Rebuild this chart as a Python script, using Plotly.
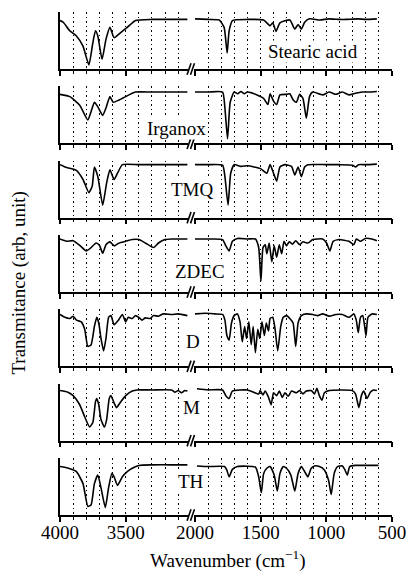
import plotly.graph_objects as go
from plotly.subplots import make_subplots

# FTIR spectra: wavenumber (cm^-1) and relative transmittance (0 = panel axis, 1 = panel top)
STEARIC_WN = [4000, 3975, 3925, 3875, 3825, 3780, 3750, 3730, 3712, 3680, 3650, 3620, 3588, 3538, 3488, 3425, 3300, 3150, 3030,
              2000, 1900, 1815, 1778, 1755, 1740, 1715, 1600, 1478, 1428, 1408, 1383, 1353, 1278, 1240, 1215, 1190, 1165,
              1128, 1050, 980, 900, 850, 760, 700, 615]
STEARIC_T = [0.85, 0.82, 0.67, 0.58, 0.40, 0.07, 0.46, 0.67, 0.58, 0.17, 0.52, 0.73, 0.55, 0.64, 0.73, 0.85, 0.87, 0.87, 0.87,
             0.88, 0.87, 0.86, 0.73, 0.28, 0.67, 0.85, 0.87, 0.86, 0.76, 0.81, 0.66, 0.81, 0.86, 0.70, 0.78, 0.70, 0.82,
             0.88, 0.86, 0.88, 0.87, 0.87, 0.88, 0.87, 0.88]

IRGANOX_WN = [4000, 3925, 3850, 3788, 3763, 3738, 3712, 3675, 3650, 3620, 3595, 3550, 3475, 3425, 3300, 3150, 3030,
              2000, 1900, 1790, 1772, 1752, 1732, 1702, 1675, 1650, 1625, 1600, 1528, 1478, 1445, 1428, 1402, 1378, 1353,
              1300, 1278, 1252, 1228, 1203, 1178, 1152, 1128, 1103, 1028, 978, 928, 878, 828, 778, 725, 675, 615]
IRGANOX_T = [0.86, 0.82, 0.67, 0.41, 0.56, 0.72, 0.64, 0.49, 0.62, 0.82, 0.72, 0.76, 0.85, 0.90, 0.90, 0.90, 0.90,
             0.90, 0.90, 0.90, 0.62, 0.08, 0.72, 0.90, 0.87, 0.91, 0.87, 0.90, 0.85, 0.79, 0.68, 0.87, 0.74, 0.68, 0.85,
             0.86, 0.87, 0.76, 0.72, 0.86, 0.79, 0.44, 0.82, 0.90, 0.85, 0.90, 0.86, 0.90, 0.85, 0.88, 0.90, 0.90, 0.91]

TMQ_WN = [4000, 3950, 3912, 3875, 3825, 3780, 3755, 3738, 3712, 3675, 3645, 3620, 3588, 3562, 3525, 3400, 3200, 3030,
          2000, 1900, 1790, 1772, 1748, 1728, 1702, 1650, 1600, 1550, 1500, 1453, 1428, 1402, 1378, 1353, 1315, 1265,
          1240, 1215, 1190, 1165, 1140, 1000, 900, 800, 777, 755, 700, 615]
TMQ_T = [0.93, 0.88, 0.86, 0.83, 0.67, 0.44, 0.55, 0.89, 0.72, 0.22, 0.61, 0.84, 0.67, 0.78, 0.93, 0.93, 0.93, 0.93,
         0.93, 0.93, 0.92, 0.72, 0.22, 0.78, 0.93, 0.90, 0.91, 0.89, 0.86, 0.78, 0.93, 0.78, 0.64, 0.89, 0.93, 0.90,
         0.75, 0.89, 0.72, 0.89, 0.93, 0.93, 0.93, 0.92, 0.89, 0.93, 0.93, 0.94]

ZDEC_WN = [4000, 3950, 3900, 3850, 3800, 3763, 3725, 3700, 3675, 3650, 3620, 3588, 3550, 3500, 3450, 3400, 3350, 3288,
           3250, 3200, 3150, 3030,
           2000, 1900, 1790, 1765, 1740, 1715, 1677, 1600, 1540, 1515, 1498, 1482, 1465, 1453, 1435, 1415, 1397, 1378,
           1358, 1340, 1322, 1303, 1283, 1258, 1233, 1203, 1178, 1140, 1103, 1028, 998, 973, 948, 903, 828, 790, 772,
           740, 703, 653, 615]
ZDEC_T = [0.93, 0.89, 0.90, 0.82, 0.72, 0.78, 0.86, 0.82, 0.68, 0.83, 0.88, 0.81, 0.86, 0.89, 0.92, 0.92, 0.86, 0.78,
          0.86, 0.92, 0.93, 0.93,
          0.93, 0.93, 0.92, 0.81, 0.72, 0.89, 0.94, 0.93, 0.93, 0.78, 0.19, 0.78, 0.83, 0.67, 0.86, 0.53, 0.81, 0.61,
          0.83, 0.67, 0.89, 0.81, 0.88, 0.84, 0.90, 0.83, 0.88, 0.86, 0.92, 0.93, 0.86, 0.72, 0.89, 0.92, 0.89, 0.83,
          0.93, 0.89, 0.94, 0.93, 0.90]

D_WN = [4000, 3963, 3925, 3900, 3875, 3838, 3812, 3788, 3763, 3738, 3720, 3705, 3688, 3668, 3650, 3630, 3612, 3588,
        3555, 3525, 3500, 3480, 3450, 3425, 3400, 3375, 3350, 3313, 3288, 3250, 3213, 3150, 3100, 3030,
        2000, 1925, 1850, 1790, 1772, 1757, 1740, 1722, 1702, 1677, 1657, 1640, 1622, 1607, 1590, 1572, 1557, 1540,
        1522, 1507, 1490, 1472, 1457, 1440, 1428, 1408, 1390, 1370, 1347, 1328, 1303, 1278, 1253, 1233, 1215, 1190,
        1153, 1103, 1065, 1028, 978, 928, 878, 828, 790, 772, 757, 740, 723, 708, 698, 683, 653, 615]
D_T = [0.91, 0.86, 0.84, 0.88, 0.81, 0.78, 0.65, 0.35, 0.38, 0.70, 0.86, 0.76, 0.49, 0.27, 0.49, 0.86, 0.89, 0.73,
       0.81, 0.91, 0.78, 0.86, 0.84, 0.89, 0.86, 0.81, 0.85, 0.84, 0.89, 0.88, 0.92, 0.91, 0.92, 0.89,
       0.92, 0.93, 0.92, 0.91, 0.81, 0.54, 0.46, 0.76, 0.89, 0.92, 0.78, 0.43, 0.70, 0.49, 0.78, 0.38, 0.70, 0.24,
       0.65, 0.49, 0.78, 0.54, 0.76, 0.62, 0.84, 0.86, 0.65, 0.27, 0.70, 0.86, 0.89, 0.84, 0.76, 0.35, 0.76, 0.89,
       0.92, 0.91, 0.89, 0.92, 0.88, 0.91, 0.91, 0.86, 0.92, 0.81, 0.59, 0.86, 0.89, 0.70, 0.54, 0.86, 0.92, 0.91]

M_WN = [4000, 3940, 3900, 3850, 3812, 3775, 3750, 3730, 3720, 3705, 3688, 3662, 3645, 3625, 3612, 3588, 3570, 3538,
        3500, 3450, 3412, 3300, 3150, 3125, 3100, 3075, 3050, 3030,
        1985, 1900, 1790, 1765, 1740, 1715, 1602, 1553, 1515, 1503, 1483, 1465, 1440, 1420, 1402, 1378, 1358, 1335,
        1315, 1290, 1265, 1228, 1203, 1178, 1153, 1115, 1090, 1072, 1053, 1033, 1015, 978, 803, 778, 752, 733, 715,
        690, 665, 640, 615]
M_T = [0.88, 0.85, 0.79, 0.63, 0.42, 0.24, 0.32, 0.68, 0.74, 0.63, 0.37, 0.24, 0.37, 0.74, 0.79, 0.66, 0.58, 0.68,
       0.79, 0.87, 0.89, 0.89, 0.89, 0.85, 0.88, 0.84, 0.88, 0.87,
       0.91, 0.89, 0.89, 0.79, 0.74, 0.87, 0.89, 0.85, 0.82, 0.88, 0.80, 0.87, 0.76, 0.63, 0.84, 0.79, 0.87, 0.76,
       0.84, 0.78, 0.87, 0.84, 0.88, 0.82, 0.87, 0.88, 0.82, 0.92, 0.79, 0.71, 0.84, 0.88, 0.88, 0.82, 0.58, 0.79, 0.87,
       0.74, 0.85, 0.89, 0.88]

TH_WN = [4000, 3935, 3875, 3825, 3788, 3763, 3738, 3712, 3688, 3655, 3630, 3605, 3588, 3562, 3525, 3488, 3450, 3400,
         3300, 3150, 3030,
         1985, 1900, 1775, 1758, 1740, 1715, 1677, 1540, 1515, 1495, 1477, 1453, 1428, 1397, 1373, 1353, 1328, 1303,
         1270, 1240, 1215, 1190, 1165, 1140, 1115, 1090, 1053, 1015, 983, 963, 940, 915, 878, 860, 840, 822, 778, 700,
         603]
TH_T = [0.85, 0.82, 0.76, 0.55, 0.15, 0.18, 0.55, 0.70, 0.48, 0.13, 0.48, 0.73, 0.67, 0.52, 0.67, 0.76, 0.82, 0.87,
        0.88, 0.88, 0.88,
        0.86, 0.85, 0.85, 0.79, 0.67, 0.80, 0.85, 0.84, 0.67, 0.39, 0.73, 0.82, 0.85, 0.70, 0.42, 0.73, 0.85, 0.82,
        0.70, 0.42, 0.73, 0.85, 0.76, 0.67, 0.82, 0.86, 0.85, 0.79, 0.61, 0.36, 0.73, 0.85, 0.86, 0.80, 0.70, 0.85,
        0.87, 0.87, 0.87]

SAMPLE_NAMES = ["Stearic acid", "Irganox", "TMQ", "ZDEC", "D", "M", "TH"]
SPECTRA = [(STEARIC_WN, STEARIC_T), (IRGANOX_WN, IRGANOX_T), (TMQ_WN, TMQ_T), (ZDEC_WN, ZDEC_T),
           (D_WN, D_T), (M_WN, M_T), (TH_WN, TH_T)]

# broken wavenumber axis: high-frequency part and fingerprint part
HIGH_RANGE = [4000, 3025]
LOW_RANGE = [2005, 500]
HIGH_TICKS = [4000, 3500]
LOW_TICKS = [2000, 1500, 1000, 500]
HIGH_MINOR = list(range(3900, 3000, -100))
LOW_MINOR = list(range(1900, 500, -100))
SPLIT_WN = 2500

# label placement inside each panel: (x in px from figure left, y as fraction of panel height)
LABEL_PLACE = [(317, 0.30), (178, 0.26), (194, 0.50), (202, 0.36), (195, 0.43), (193, 0.58), (193, 0.58)]

W, H = 418, 577
ML, MR, MT, MB = 60, 21, 12, 62
PW = W - ML - MR
PH = H - MT - MB
N = len(SPECTRA)
PANEL_H = 57
GAP = (PH - N * PANEL_H) / (N - 1)
HIGH_PX = (HIGH_RANGE[0] - HIGH_RANGE[1]) * 0.13333
LOW_PX = (LOW_RANGE[0] - LOW_RANGE[1]) * 0.13333
HSPACE = PW - HIGH_PX - LOW_PX

FONT = "Liberation Serif"
DOTS = "1.5px,3px"

fig = make_subplots(rows=N, cols=2, column_widths=[HIGH_PX, LOW_PX],
                    horizontal_spacing=HSPACE / PW, vertical_spacing=GAP / PH)

for r, (wn, t) in enumerate(SPECTRA, start=1):
    hi = [(w, v) for w, v in zip(wn, t) if w >= SPLIT_WN]
    lo = [(w, v) for w, v in zip(wn, t) if w < SPLIT_WN]
    for c, seg in ((1, hi), (2, lo)):
        fig.add_trace(go.Scatter(x=[p[0] for p in seg], y=[p[1] for p in seg], mode="lines",
                                 line=dict(color="black", width=1.6, shape="spline", smoothing=0.5),
                                 hoverinfo="skip"),
                      row=r, col=c)

axis_common = dict(showline=True, linecolor="black", linewidth=1.6, ticks="outside", ticklen=5,
                   tickwidth=1.5, tickcolor="black", showgrid=True, gridcolor="black", gridwidth=1.3,
                   griddash=DOTS, zeroline=False, ticklabelstandoff=-6,
                   tickfont=dict(family=FONT, size=19, color="black"))

for r in range(1, N + 1):
    bottom = r == N
    fig.update_xaxes(range=HIGH_RANGE, tickvals=HIGH_TICKS, showticklabels=bottom,
                     minor=dict(tickvals=HIGH_MINOR, ticklen=3, tickwidth=1.3, tickcolor="black", ticks="outside",
                                showgrid=True, gridcolor="black", gridwidth=1.3, griddash=DOTS),
                     row=r, col=1, **axis_common)
    fig.update_xaxes(range=LOW_RANGE, tickvals=LOW_TICKS, showticklabels=bottom,
                     minor=dict(tickvals=LOW_MINOR, ticklen=3, tickwidth=1.3, tickcolor="black", ticks="outside",
                                showgrid=True, gridcolor="black", gridwidth=1.3, griddash=DOTS),
                     row=r, col=2, **axis_common)
    fig.update_yaxes(range=[0, 1], showline=True, linecolor="black", linewidth=1.6, ticks="",
                     showticklabels=False, showgrid=False, zeroline=False, row=r, col=1)
    fig.update_yaxes(range=[0, 1], showline=False, ticks="", showticklabels=False, showgrid=False,
                     zeroline=False, row=r, col=2)

    yref_dom = "y domain" if r == 1 else f"y{2 * r - 1} domain"
    # axis-break marks between the two parts
    gx0 = (HIGH_PX - 1) / PW
    for dx in (0.0, 3.5 / PW):
        fig.add_shape(type="line", xref="paper", yref=yref_dom,
                      x0=gx0 + dx, x1=gx0 + dx + 4 / PW, y0=-0.1, y1=0.1,
                      line=dict(color="black", width=1.6))

    # sample label
    lx, ly = LABEL_PLACE[r - 1]
    fig.add_annotation(text=SAMPLE_NAMES[r - 1], xref="paper", yref=yref_dom,
                       x=(lx - ML) / PW, y=ly, xanchor="center", yanchor="middle", showarrow=False,
                       bgcolor="white", borderpad=0,
                       font=dict(family=FONT, size=19, color="black"))

fig.add_annotation(text="Wavenumber (cm<sup>\u22121</sup>)", xref="paper", yref="paper",
                   x=(231 - ML) / PW, y=-(559 - (MT + PH)) / PH, xanchor="center", yanchor="middle",
                   showarrow=False, font=dict(family=FONT, size=19, color="black"))
fig.add_annotation(text="Transmitance (arb, unit)", xref="paper", yref="paper", textangle=-90,
                   x=(18 - ML) / PW, y=1 - (283 - MT) / PH, xanchor="center", yanchor="middle",
                   showarrow=False, font=dict(family=FONT, size=19, color="black"))

fig.update_layout(width=W, height=H, margin=dict(l=ML, r=MR, t=MT, b=MB),
                  plot_bgcolor="white", paper_bgcolor="white", showlegend=False)

fig.write_html("out.html")
